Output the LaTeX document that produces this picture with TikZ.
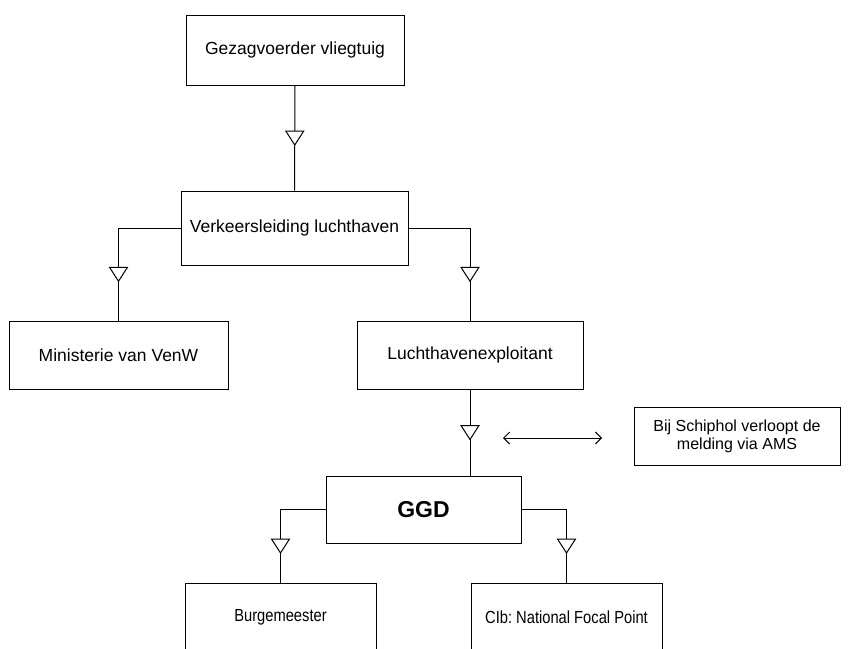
\documentclass[tikz,border=0pt]{standalone}
\usepackage{fontspec}
\setmainfont{Liberation Sans}
\newfontfamily\narrowfont[FakeStretch=0.84]{Liberation Sans}
\usetikzlibrary{arrows.meta}
\frenchspacing

\tikzset{
  orgbox/.style={draw, line width=1pt, inner sep=0pt, align=center,
    font=\fontsize{17.5}{21}\selectfont},
  smallbox/.style={orgbox, font=\narrowfont\fontsize{17.5}{21}\selectfont},
  notebox/.style={orgbox, font=\fontsize{16}{18}\selectfont},
  conn/.style={line width=1pt},
  opentri/.pic={\draw[line width=1pt, fill=white] (-9,-7) -- (9,-7) -- (0,7) -- cycle;},
  barb/.tip={Straight Barb[length=6pt,width=12pt]},
}

\begin{document}
\begin{tikzpicture}[x=1pt,y=-1pt]
\useasboundingbox (0,0) rectangle (851,648);
\clip (0,0) rectangle (851,648);

% Boxes
\node[orgbox, minimum width=218pt, minimum height=70pt] (gz) at (295,50) {Gezagvoerder vliegtuig};
\node[orgbox, minimum width=227pt, minimum height=74pt] (vl) at (294.5,228) {Verkeersleiding luchthaven};
\node[orgbox, minimum width=219pt, minimum height=68pt] (mv) at (118.5,355) {Ministerie van VenW};
\node[orgbox, minimum width=226pt, minimum height=68pt] (le) at (470,355) {Luchthavenexploitant};
\node[orgbox, minimum width=195pt, minimum height=67pt,
  font=\fontsize{23}{27}\selectfont\bfseries] (ggd) at (423.5,509.5) {GGD};
\node[notebox, minimum width=206pt, minimum height=58pt] (note) at (737,436) {Bij Schiphol verloopt de\\melding via AMS};
\node[smallbox, minimum width=191pt, minimum height=68pt] (bm) at (280.5,617) {Burgemeester};
\node[smallbox, minimum width=191pt, minimum height=68pt] (cib) at (566.5,617) {CIb: National Focal Point};

% Connectors
\draw[conn] (gz.south) -- coordinate[pos=.5] (t1) (vl.north);
\draw[conn] (vl.west) -| coordinate[pos=.75] (t2) (mv.north);
\draw[conn] (vl.east) -| coordinate[pos=.75] (t3) (le.north);
\draw[conn] (le.south) -- coordinate[pos=.5] (t4) (le.south |- ggd.north);
\draw[conn] (ggd.west) -| coordinate[pos=.75] (t5) (bm.north);
\draw[conn] (ggd.east) -| coordinate[pos=.75] (t6) (cib.north);

% open triangles
\foreach \t in {t1,t2,t3,t4,t5,t6}
  \pic at (\t) {opentri};

% double arrow
\coordinate (da1) at (503,438);
\coordinate (da2) at (602,438);
\draw[conn, barb-barb] (da1) -- (da2);

\end{tikzpicture}
\end{document}
